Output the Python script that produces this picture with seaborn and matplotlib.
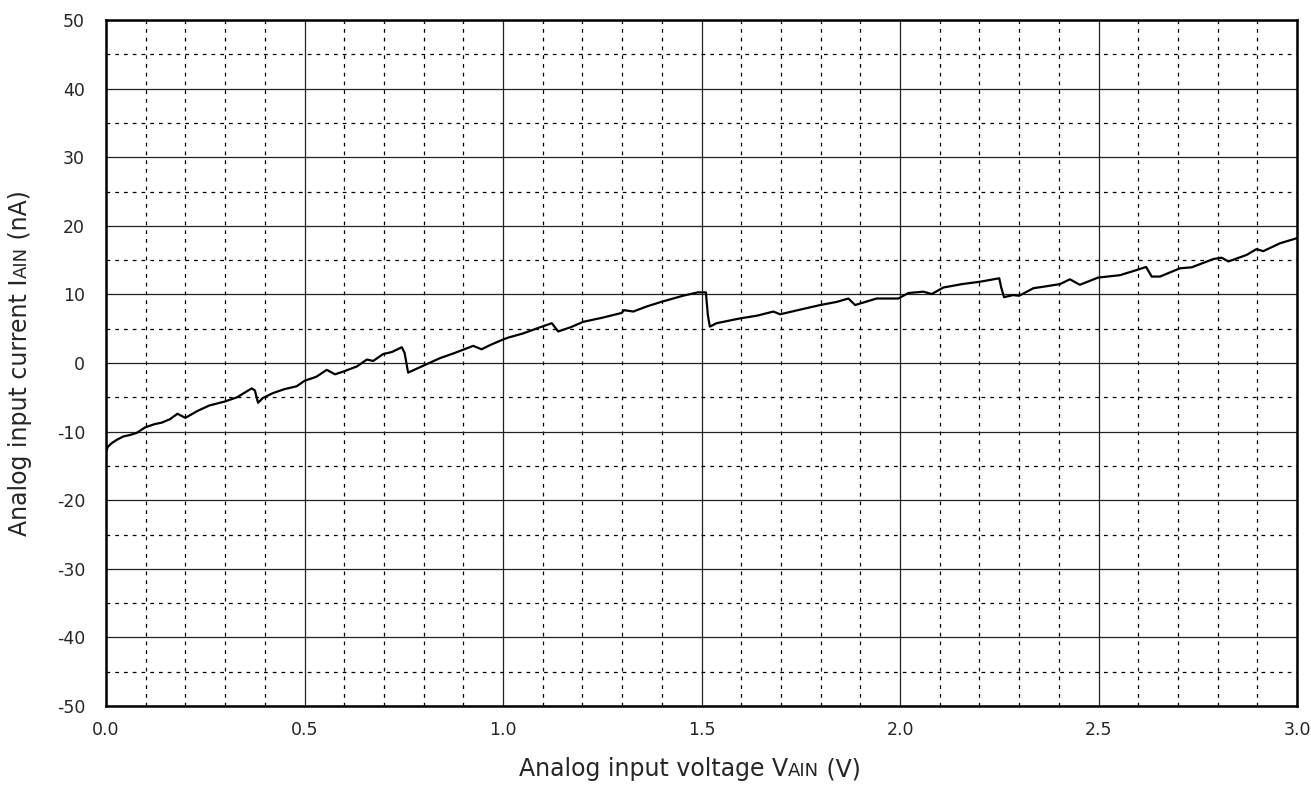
import seaborn as sns
import matplotlib.pyplot as plt
import pandas as pd
from matplotlib.ticker import MultipleLocator

# analog input current vs voltage
vain = [0.000, 0.005, 0.014, 0.027, 0.044, 0.060, 0.077, 0.098, 0.123, 0.140,
        0.161, 0.180, 0.190, 0.200, 0.230, 0.260, 0.300, 0.330, 0.367, 0.375,
        0.383, 0.395, 0.420, 0.450, 0.480, 0.500, 0.530, 0.556, 0.577, 0.600,
        0.632, 0.657, 0.673, 0.698, 0.720, 0.745, 0.752, 0.761, 0.780, 0.799,
        0.841, 0.880, 0.925, 0.946, 0.967, 0.997, 1.013, 1.050, 1.093, 1.123,
        1.139, 1.170, 1.202, 1.250, 1.299, 1.305, 1.328, 1.360, 1.398, 1.453,
        1.491, 1.511, 1.516, 1.521, 1.538, 1.597, 1.640, 1.681, 1.698, 1.750,
        1.799, 1.840, 1.870, 1.887, 1.941, 1.996, 2.021, 2.059, 2.080, 2.109,
        2.156, 2.202, 2.250, 2.255, 2.262, 2.285, 2.300, 2.336, 2.370, 2.403,
        2.428, 2.453, 2.499, 2.554, 2.596, 2.620, 2.634, 2.655, 2.705, 2.735,
        2.789, 2.810, 2.827, 2.873, 2.898, 2.915, 2.957, 3.000]
iain = [-12.9, -12.2, -11.7, -11.2, -10.7, -10.5, -10.2, -9.4, -8.9, -8.7,
        -8.2, -7.4, -7.7, -8.0, -7.0, -6.2, -5.6, -5.0, -3.7, -4.0,
        -5.8, -5.1, -4.4, -3.8, -3.4, -2.6, -2.0, -1.0, -1.65, -1.2,
        -0.5, 0.5, 0.3, 1.3, 1.6, 2.3, 1.5, -1.4, -0.9, -0.4,
        0.7, 1.5, 2.5, 2.0, 2.6, 3.35, 3.7, 4.3, 5.2, 5.8,
        4.6, 5.2, 6.0, 6.6, 7.3, 7.7, 7.5, 8.2, 8.9, 9.8,
        10.3, 10.3, 7.0, 5.3, 5.8, 6.5, 6.9, 7.5, 7.1, 7.8,
        8.45, 8.9, 9.4, 8.45, 9.4, 9.4, 10.2, 10.4, 10.05, 11.0,
        11.5, 11.85, 12.35, 11.0, 9.6, 9.9, 9.8, 10.9, 11.2, 11.5,
        12.2, 11.4, 12.45, 12.8, 13.55, 14.0, 12.6, 12.6, 13.8, 13.95,
        15.15, 15.35, 14.8, 15.75, 16.6, 16.3, 17.45, 18.2]

df = pd.DataFrame({'vain': vain, 'iain': iain})

sns.set_style('white')
plt.rcParams['font.family'] = ['DejaVu Sans']
plt.rcParams['axes.unicode_minus'] = False

fig = plt.figure(figsize=(13.11, 7.87), dpi=100)
ax = fig.add_axes([106 / 1311, 1 - 706 / 787, (1297 - 106) / 1311, (706 - 20) / 787])

sns.lineplot(data=df, x='vain', y='iain', color='black', linewidth=1.6, ax=ax)

ax.set_xlim(0, 3.0)
ax.set_ylim(-50, 50)
ax.xaxis.set_major_locator(MultipleLocator(0.5))
ax.xaxis.set_minor_locator(MultipleLocator(0.1))
ax.yaxis.set_major_locator(MultipleLocator(10))
ax.yaxis.set_minor_locator(MultipleLocator(5))
ax.xaxis.set_major_formatter(lambda v, p: f'{v:.1f}')
ax.grid(which='major', color='#222222', linewidth=0.9, linestyle='-')
ax.grid(which='minor', color='black', linewidth=0.9, linestyle=(0, (3, 4)))
ax.tick_params(which='both', length=0, labelsize=12.5)
ax.tick_params(axis='y', pad=15)
ax.tick_params(axis='x', pad=11)
for s in ax.spines.values():
    s.set_color('black')
    s.set_linewidth(1.8)
ax.set_xlabel('')
ax.set_ylabel('')


# axis labels with the small caps subscript (AIN)
def rich_label(parts, x0, y0, rotation=0):
    r = fig.canvas.get_renderer()
    widths = []
    for txt, size in parts:
        t = fig.text(0, 0, txt, fontsize=size, transform=None)
        widths.append(t.get_window_extent(r).width)
        t.remove()
    pos = -sum(widths) / 2
    for (txt, size), w in zip(parts, widths):
        if rotation == 0:
            xy = (x0 + pos, y0)
        else:
            xy = (x0, y0 + pos)
        fig.text(xy[0], xy[1], txt, fontsize=size, transform=None,
                 rotation=rotation, rotation_mode='anchor',
                 ha='left', va='baseline')
        pos += w


fig.canvas.draw()
rich_label([('Analog input voltage V', 17), ('AIN', 13), (' (V)', 17)],
           690, 787 - 776)
rich_label([('Analog input current I', 17), ('AIN', 13), (' (nA)', 17)],
           27, 787 - 363, rotation=90)

fig.savefig('out.png', dpi=100)
